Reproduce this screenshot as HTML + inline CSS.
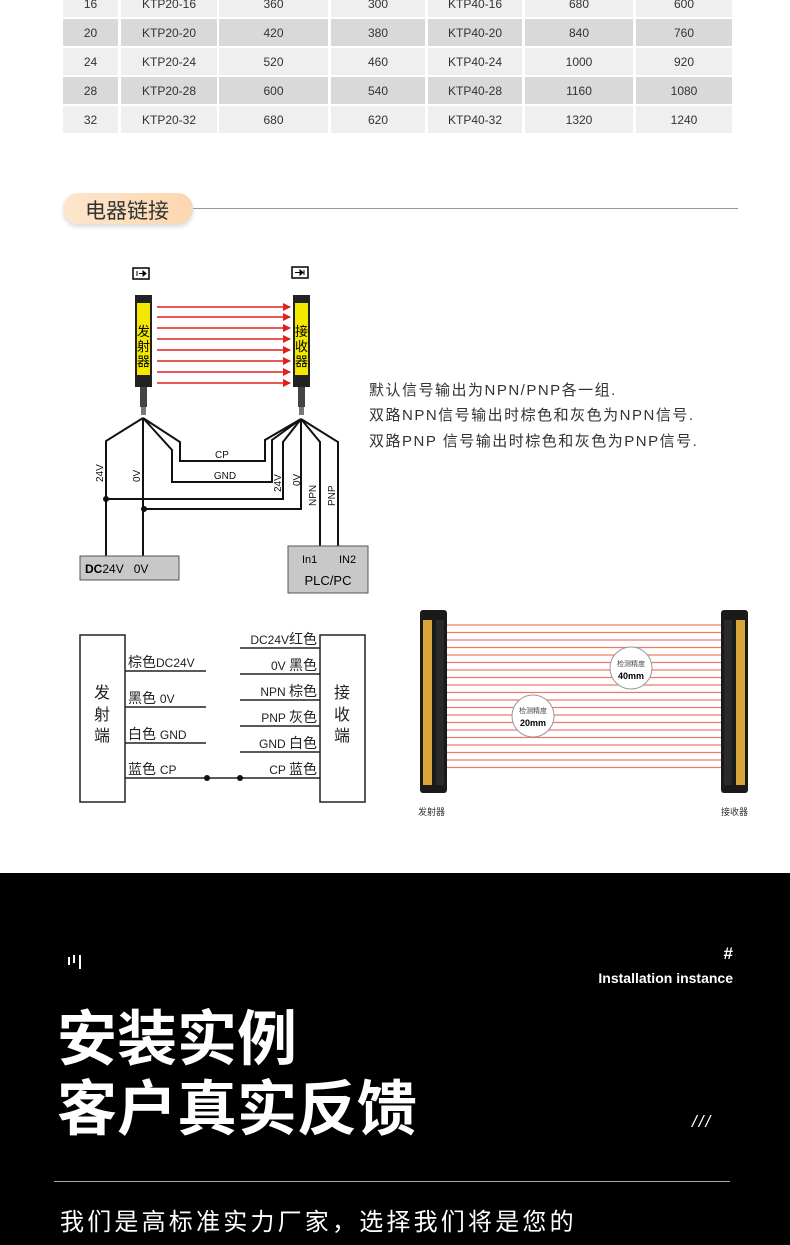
<!DOCTYPE html>
<html><head><meta charset="utf-8"><style>
body{margin:0;width:790px;height:1245px;overflow:hidden;background:#fff;position:relative;font-family:"Liberation Sans","Noto Sans CJK SC",sans-serif}
.c{position:absolute;display:flex;align-items:center;justify-content:center;font-size:12px;color:#333}
.t{position:absolute;white-space:nowrap}
</style></head><body>
<div id="tbl"></div>
<script>
var cols=[[63,118],[121,217],[219,328],[331,425],[428,522],[525,633],[636,732]];
var rows=[["16","KTP20-16","360","300","KTP40-16","680","600"],["20","KTP20-20","420","380","KTP40-20","840","760"],["24","KTP20-24","520","460","KTP40-24","1000","920"],["28","KTP20-28","600","540","KTP40-28","1160","1080"],["32","KTP20-32","680","620","KTP40-32","1320","1240"]];
var h="";
rows.forEach(function(r,i){var top=-10+i*29;r.forEach(function(v,j){h+='<div class="c" style="left:'+cols[j][0]+'px;top:'+top+'px;width:'+(cols[j][1]-cols[j][0])+'px;height:27px;background:'+(i%2?'#d9d9d9':'#efefef')+'">'+v+'</div>';});});
document.getElementById('tbl').innerHTML=h;
</script>
<div style="position:absolute;left:63px;top:193px;width:130px;height:31px;border-radius:16px;background:linear-gradient(90deg,#fde6cc,#fbd7b0);box-shadow:0 3px 4px rgba(0,0,0,.15)"></div>
<div class="t" style="left:85px;top:195px;font-size:21px;color:#333">电器链接</div>
<div style="position:absolute;left:193px;top:208px;width:545px;height:1px;background:#999"></div>

<svg width="790" height="873" style="position:absolute;left:0;top:0" font-family="Liberation Sans, Noto Sans CJK SC, sans-serif">
<defs><marker id="ar" markerWidth="8" markerHeight="8" refX="7" refY="4" orient="auto" markerUnits="userSpaceOnUse"><path d="M0,0L8,4L0,8z" fill="#e0201c"/></marker></defs>
<rect x="133" y="268" width="16" height="11" fill="#fff" stroke="#000" stroke-width="1.5"/><path d="M137,271v5M139,273.5h6M143,271l3,2.5l-3,2.5z" stroke="#000" fill="#000"/>
<rect x="292" y="267" width="16" height="11" fill="#fff" stroke="#000" stroke-width="1.5"/><path d="M295,272.5h7M300,270l3,2.5l-3,2.5zM304,270v5" stroke="#000" fill="#000"/>
<g>
<rect x="135" y="295" width="17" height="92" fill="#222"/><rect x="137" y="303" width="13" height="72" fill="#f5e800"/>
<rect x="140" y="387" width="7" height="20" fill="#444"/><rect x="141" y="407" width="5" height="8" fill="#777"/>
<text x="143.5" y="336" font-size="13" text-anchor="middle">发</text><text x="143.5" y="351" font-size="13" text-anchor="middle">射</text><text x="143.5" y="366" font-size="13" text-anchor="middle">器</text>
<rect x="293" y="295" width="17" height="92" fill="#222"/><rect x="295" y="303" width="13" height="72" fill="#f5e800"/>
<rect x="298" y="387" width="7" height="20" fill="#444"/><rect x="299" y="407" width="5" height="8" fill="#777"/>
<text x="301.5" y="336" font-size="13" text-anchor="middle">接</text><text x="301.5" y="351" font-size="13" text-anchor="middle">收</text><text x="301.5" y="366" font-size="13" text-anchor="middle">器</text>
</g>
<g stroke="#e0201c" stroke-width="1.5" marker-end="url(#ar)">
<line x1="157" y1="307" x2="290" y2="307"/><line x1="157" y1="317" x2="290" y2="317"/><line x1="157" y1="328" x2="290" y2="328"/><line x1="157" y1="339" x2="290" y2="339"/><line x1="157" y1="350" x2="290" y2="350"/><line x1="157" y1="361" x2="290" y2="361"/><line x1="157" y1="372" x2="290" y2="372"/><line x1="157" y1="383" x2="290" y2="383"/>
</g>
<g fill="none" stroke="#111" stroke-width="2">
<path d="M143,418L106,441V556"/><path d="M143,418V556"/>
<path d="M143,418L180,442V461H265V440L301,419"/>
<path d="M143,418L172,450V482H272V440L301,419"/>
<path d="M301,419L283,442V499H106"/>
<path d="M301,419V509H144"/>
<path d="M301,419L320,442V547"/><path d="M301,419L338,442V547"/>
</g>
<circle cx="106" cy="499" r="3" fill="#111"/><circle cx="144" cy="509" r="3" fill="#111"/>
<g font-size="10" fill="#111">
<text x="222" y="458" text-anchor="middle">CP</text><text x="225" y="479" text-anchor="middle">GND</text>
<text transform="translate(103,482) rotate(-90)">24V</text><text transform="translate(140,482) rotate(-90)">0V</text>
<text transform="translate(281,492) rotate(-90)">24V</text><text transform="translate(300,486) rotate(-90)">0V</text>
<text transform="translate(316,506) rotate(-90)">NPN</text><text transform="translate(335,506) rotate(-90)">PNP</text>
</g>
<rect x="80" y="556" width="99" height="24" fill="#c8c8c8" stroke="#555"/>
<text x="85" y="573" font-size="12"><tspan font-weight="bold">DC</tspan>24V&#160;&#160;&#160;0V</text>
<rect x="288" y="546" width="80" height="47" fill="#c8c8c8" stroke="#555"/>
<text x="302" y="563" font-size="11">In1</text><text x="339" y="563" font-size="11">IN2</text>
<text x="328" y="585" font-size="13" text-anchor="middle">PLC/PC</text>
<g font-size="15" fill="#333" letter-spacing="1.5">
<text x="369" y="395">默认信号输出为NPN/PNP各一组.</text>
<text x="369" y="420">双路NPN信号输出时棕色和灰色为NPN信号.</text>
<text x="369" y="446">双路PNP 信号输出时棕色和灰色为PNP信号.</text>
</g>
<g fill="none" stroke="#222" stroke-width="1.5">
<rect x="80" y="635" width="45" height="167"/><rect x="320" y="635" width="45" height="167"/>
<path d="M125,671H206M125,707H206M125,743H206M125,778H320"/>
<path d="M240,648H320M240,674H320M240,700H320M240,726H320M240,752H320"/>
</g>
<circle cx="207" cy="778" r="3" fill="#111"/><circle cx="240" cy="778" r="3" fill="#111"/>
<g font-size="16" fill="#222" text-anchor="middle"><text x="102" y="698">发</text><text x="102" y="720">射</text><text x="102" y="741">端</text>
<text x="342" y="698">接</text><text x="342" y="720">收</text><text x="342" y="741">端</text></g>
<g font-size="14" fill="#222">
<text x="128" y="667">棕色<tspan font-size="12">DC24V</tspan></text>
<text x="128" y="703">黑色 <tspan font-size="12">0V</tspan></text>
<text x="128" y="739">白色 <tspan font-size="12">GND</tspan></text>
<text x="128" y="774">蓝色 <tspan font-size="12">CP</tspan></text>
</g>
<g font-size="14" fill="#222" text-anchor="end">
<text x="317" y="644"><tspan font-size="12">DC24V</tspan>红色</text>
<text x="317" y="670"><tspan font-size="12">0V </tspan> 黑色</text>
<text x="317" y="696"><tspan font-size="12">NPN </tspan>棕色</text>
<text x="317" y="722"><tspan font-size="12">PNP </tspan>灰色</text>
<text x="317" y="748"><tspan font-size="12">GND </tspan>白色</text>
<text x="317" y="774"><tspan font-size="12">CP </tspan>蓝色</text>
</g>
<g id="beams" stroke="#ef7a6a" stroke-width="1.3"></g>
<rect x="420" y="610" width="27" height="183" rx="3" fill="#1a1a1a"/><rect x="423" y="620" width="9" height="165" fill="#d9a53a"/><rect x="436" y="620" width="8" height="165" fill="#2a2a2a"/>
<rect x="721" y="610" width="27" height="183" rx="3" fill="#1a1a1a"/><rect x="736" y="620" width="9" height="165" fill="#d9a53a"/><rect x="724" y="620" width="8" height="165" fill="#2a2a2a"/>
<circle cx="631" cy="668" r="21" fill="#fff" stroke="#999"/><circle cx="533" cy="716" r="21" fill="#fff" stroke="#999"/>
<text x="631" y="666" font-size="7" text-anchor="middle" fill="#444">检测精度</text><text x="631" y="679" font-size="9" font-weight="bold" text-anchor="middle">40mm</text>
<text x="533" y="713" font-size="7" text-anchor="middle" fill="#444">检测精度</text><text x="533" y="726" font-size="9" font-weight="bold" text-anchor="middle">20mm</text>
<text x="418" y="815" font-size="9" fill="#333">发射器</text><text x="721" y="815" font-size="9" fill="#333">接收器</text>
</svg>
<script>
var b="";for(var i=0;i<20;i++){var y=625+i*7.5;b+='<line x1="447" y1="'+y+'" x2="721" y2="'+y+'"/>';}
document.getElementById('beams').innerHTML=b;
</script>

<div style="position:absolute;left:0;top:873px;width:790px;height:372px;background:#000"></div>
<div style="position:absolute;left:68px;top:957px;width:2px;height:8px;background:#fff"></div>
<div style="position:absolute;left:73px;top:955px;width:2px;height:8px;background:#fff"></div>
<div style="position:absolute;left:79px;top:955px;width:2px;height:14px;background:#fff"></div>
<div class="t" style="right:57px;top:944px;color:#fff;font-size:17px;font-weight:bold">#</div>
<div class="t" style="right:57px;top:970px;color:#fff;font-size:14px;font-weight:bold">Installation instance</div>
<div class="t" style="left:57px;top:1005px;color:#fff;font-size:60px;font-weight:bold;line-height:70px">安装实例<br>客户真实反馈</div>
<div class="t" style="left:692px;top:1112px;color:#fff;font-size:17px;font-style:italic;letter-spacing:2px">///</div>
<div style="position:absolute;left:54px;top:1181px;width:676px;height:1px;background:#aaa"></div>
<div class="t" style="left:60px;top:1202px;color:#fff;font-size:24px;letter-spacing:3.2px">我们是高标准实力厂家，选择我们将是您的</div>
</body></html>
